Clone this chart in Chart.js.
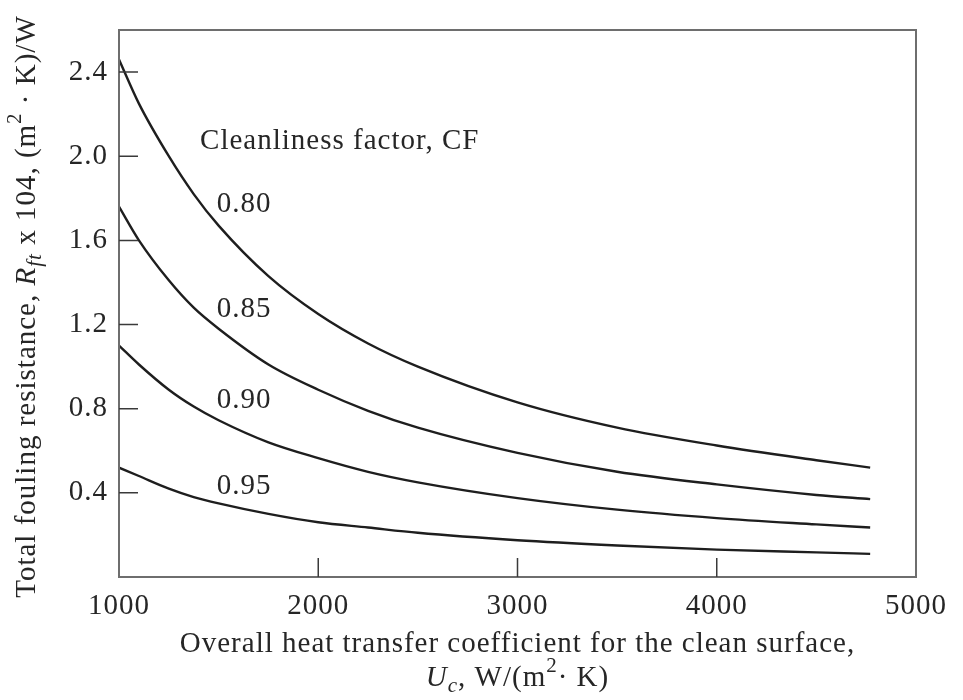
<!DOCTYPE html>
<html>
<head>
<meta charset="utf-8">
<script src="https://cdn.jsdelivr.net/npm/chart.js@4.4.0/dist/chart.umd.min.js"></script>
<style>
  html, body { margin: 0; padding: 0; background: #fff; }
  #wrap { position: relative; width: 963px; height: 700px; }
</style>
</head>
<body>
<div id="wrap"><canvas id="myChart" width="963" height="700"></canvas></div>
<script>
// values
const uc = [1000, 1100, 1250, 1375, 1500, 1750, 2000, 2250, 2500, 3000, 3500, 4000, 4500, 4770];
const cf80 = [2.46, 2.25, 2.0, 1.82, 1.67, 1.43, 1.25, 1.11, 1.0, 0.83, 0.71, 0.625, 0.555, 0.52];
const cf85 = [1.76, 1.60, 1.41, 1.28, 1.18, 1.01, 0.89, 0.79, 0.71, 0.59, 0.50, 0.44, 0.39, 0.37];
const cf90 = [1.10, 1.01, 0.89, 0.81, 0.745, 0.64, 0.565, 0.50, 0.45, 0.375, 0.32, 0.28, 0.25, 0.235];
const cf95 = [0.52, 0.48, 0.42, 0.38, 0.35, 0.30, 0.26, 0.235, 0.21, 0.175, 0.15, 0.13, 0.117, 0.11];
const seriesNames = ['0.80', '0.85', '0.90', '0.95'];
const xTicks = [1000, 2000, 3000, 4000, 5000];
const yTicks = [0.4, 0.8, 1.2, 1.6, 2.0, 2.4];
// curve labels, placed in data units
const labelX = [1490, 1490, 1490, 1490];
const labelY = [1.77, 1.27, 0.84, 0.43];
const headText = 'Cleanliness factor, CF';
const headPos = [1407, 2.07];

const serif = '"Liberation Serif", "DejaVu Serif", serif';
const ink = '#262626';
const fs = 29;

function toPoints(ys) {
    return ys.map((v, i) => ({x: uc[i], y: v}));
}

// draw a line of mixed text: segments {t, it, sub, sup}
function drawRich(ctx, segs, x, y, size) {
    const fontFor = s => (s.it ? 'italic ' : '') + Math.round((s.sub || s.sup) ? size * 0.72 : size) + 'px ' + serif;
    let total = 0;
    segs.forEach(s => { ctx.font = fontFor(s); total += ctx.measureText(s.t).width; });
    let cx = x - total / 2;
    ctx.textAlign = 'left';
    ctx.textBaseline = 'middle';
    segs.forEach(s => {
        ctx.font = fontFor(s);
        let dy = s.sub ? size * 0.28 : (s.sup ? -size * 0.38 : 0);
        ctx.fillText(s.t, cx, y + dy);
        cx += ctx.measureText(s.t).width;
    });
}

const decorations = {
    id: 'decorations',
    beforeDraw(chart) {
        chart.ctx.letterSpacing = '1px';
    },
    afterDraw(chart) {
        const ctx = chart.ctx;
        const a = chart.chartArea;
        const xs = chart.scales.x, ys = chart.scales.y;
        ctx.save();
        ctx.letterSpacing = '1px';
        // frame
        ctx.strokeStyle = '#6e6e6e';
        ctx.lineWidth = 2;
        ctx.strokeRect(a.left, a.top, a.right - a.left, a.bottom - a.top);
        // inward ticks
        ctx.strokeStyle = '#3a3a3a';
        ctx.lineWidth = 1.5;
        ctx.beginPath();
        yTicks.forEach(v => {
            const py = ys.getPixelForValue(v);
            ctx.moveTo(a.left, py);
            ctx.lineTo(a.left + 19, py);
        });
        xTicks.slice(1, -1).forEach(v => {
            const px = xs.getPixelForValue(v);
            ctx.moveTo(px, a.bottom);
            ctx.lineTo(px, a.bottom - 19);
        });
        ctx.stroke();

        ctx.fillStyle = ink;
        // curve labels
        ctx.font = fs + 'px ' + serif;
        ctx.textAlign = 'left';
        ctx.textBaseline = 'middle';
        ctx.fillText(headText, xs.getPixelForValue(headPos[0]), ys.getPixelForValue(headPos[1]));
        seriesNames.forEach((n, i) => {
            ctx.fillText(n, xs.getPixelForValue(labelX[i]), ys.getPixelForValue(labelY[i]));
        });

        // x axis title, two lines
        const midX = (a.left + a.right) / 2;
        drawRich(ctx, [{t: 'Overall heat transfer coefficient for the clean surface,'}], midX, a.bottom + 67, fs);
        drawRich(ctx, [{t: 'U', it: true}, {t: 'c', it: true, sub: true}, {t: ', W/(m'}, {t: '2', sup: true}, {t: '· K)'}], midX, a.bottom + 101, fs);

        // y axis title, rotated
        ctx.save();
        ctx.translate(27, (a.top + a.bottom) / 2 + 3);
        ctx.rotate(-Math.PI / 2);
        drawRich(ctx, [
            {t: 'Total fouling resistance, '},
            {t: 'R', it: true}, {t: 'ft', it: true, sub: true},
            {t: ' x 104, (m'}, {t: '2', sup: true}, {t: ' · K)/W'}
        ], 0, 0, fs);
        ctx.restore();
        ctx.restore();
    }
};

const ctx = document.getElementById('myChart');
const data = {
    datasets: [cf80, cf85, cf90, cf95].map((ys, i) => ({
        label: seriesNames[i],
        data: toPoints(ys),
        borderColor: '#1e1e1e',
        borderWidth: 2.4,
        pointRadius: 0,
        fill: false,
        cubicInterpolationMode: 'monotone'
    }))
};
const options = {
    responsive: false,
    animation: false,
    layout: { padding: { top: 30, right: 47, left: 0, bottom: 0 } },
    plugins: {
        legend: { display: false },
        tooltip: { enabled: false }
    },
    scales: {
        x: {
            type: 'linear',
            min: 1000,
            max: 5000,
            afterBuildTicks: s => { s.ticks = xTicks.map(v => ({value: v})); },
            afterFit: s => { s.height = 123; },
            grid: { display: false, drawTicks: false },
            border: { display: false },
            ticks: {
                color: ink,
                padding: 12,
                maxRotation: 0,
                font: { family: serif, size: fs },
                callback: v => String(v)
            }
        },
        y: {
            type: 'linear',
            min: 0,
            max: 2.6,
            afterBuildTicks: s => { s.ticks = yTicks.map(v => ({value: v})); },
            afterFit: s => { s.width = 119; },
            grid: { display: false, drawTicks: false },
            border: { display: false },
            ticks: {
                color: ink,
                padding: 11,
                font: { family: serif, size: fs },
                callback: v => Number(v).toFixed(1)
            }
        }
    }
};

const myChart = new Chart(ctx, {
    type: 'line',
    data: data,
    options: options,
    plugins: [decorations]
});
</script>
</body>
</html>
